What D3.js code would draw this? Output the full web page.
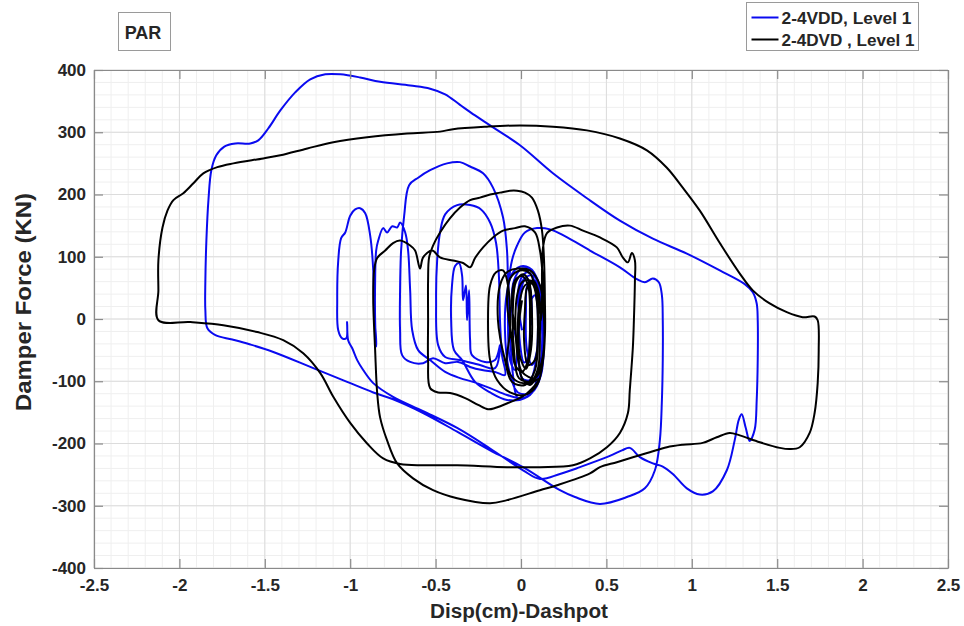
<!DOCTYPE html>
<html>
<head>
<meta charset="utf-8">
<script src="https://cdn.jsdelivr.net/npm/d3@7"></script>
<style>
  html, body { margin: 0; padding: 0; background: #fff; }
  svg text { font-family: "Liberation Sans", Arial, Helvetica, sans-serif; font-weight: bold; fill: #262626; }
</style>
</head>
<body>
<svg id="chart" width="964" height="626"></svg>
<script>
// Axis settings
const xDomain = [-2.5, 2.5];
const yDomain = [-400, 400];
const xTicks = [-2.5, -2, -1.5, -1, -0.5, 0, 0.5, 1, 1.5, 2, 2.5];
const yTicks = [-400, -300, -200, -100, 0, 100, 200, 300, 400];
const xTickLabels = ["-2.5", "-2", "-1.5", "-1", "-0.5", "0", "0.5", "1", "1.5", "2", "2.5"];
const yTickLabels = ["-400", "-300", "-200", "-100", "0", "100", "200", "300", "400"];

const seriesNames = ["2-4VDD, Level 1", "2-4DVD , Level 1"];
const seriesColors = ["#0a0af0", "#000000"];

// Damper hysteresis, 2-4VDD, Level 1: [displacement (cm), force (kN)]
const vddPoints = [
  [0.006,-18],[-0.018,30],[0,65],[0.041,75],[0.082,59],[0.099,-2],[0.088,-66],[0.053,-98],[0.006,-95],[-0.018,-50],
  [-0.053,14],[-0.041,62],[0.006,81],[0.064,78],[0.117,46],[0.135,-18],[0.117,-90],[0.064,-118],[-0.018,-118],[-0.070,-82],
  [-0.094,-18],[-0.082,43],[-0.047,75],[0.012,85],[0.076,75],[0.111,30],[0.123,-42],[0.094,-106],[0.023,-127],[-0.082,-130],[-0.181,-118],[-0.269,-101],
  [-0.345,-66],[-0.392,-50],[-0.409,-2],[-0.404,54],[-0.386,85],[-0.363,90],[-0.345,70],[-0.339,30],[-0.322,54],[-0.316,-2],[-0.304,46],[-0.298,-34],
  [-0.287,-58],[-0.211,-69],[-0.152,-66],[-0.123,-42],
  [-0.152,-79],[-0.240,-74],[-0.357,-66],[-0.444,-61],[-0.485,-42],[-0.497,30],[-0.491,94],[-0.474,139],[-0.444,168],[-0.374,183],[-0.298,183],
  [-0.234,176],[-0.181,155],[-0.146,122],[-0.129,67],[-0.123,-2],[-0.111,-58],[-0.094,-90],
  [-0.152,-85],[-0.228,-82],[-0.298,-77],[-0.368,-69],[-0.444,-71],[-0.515,-63],[-0.573,-71],[-0.649,-69],[-0.696,-58],
  [-0.708,-18],[-0.708,46],[-0.702,110],[-0.684,166],[-0.655,215],[-0.602,227],[-0.532,239],[-0.433,250],[-0.357,252],[-0.298,245],
  [-0.222,234],[-0.164,211],[-0.105,163],[-0.082,110],[-0.076,57],[-0.064,-18],[-0.047,-90],[-0.018,-127],[0.053,-122],[0.111,-82],
  [0.135,-18],[0.117,46],[0.070,70],[0.023,65],[-0.006,30],[-0.018,-34],[-0.035,-82],[-0.064,-66],[-0.076,-2],[-0.070,62],
  [-0.053,94],[-0.023,118],[0.023,139],[0.094,146],[0.170,144],[0.257,133],[0.404,110],[0.579,83],[0.678,64],[0.725,59],[0.772,65],
  [0.807,59],[0.825,38],[0.830,-2],[0.830,-66],[0.825,-130],[0.813,-195],[0.784,-243],[0.725,-272],[0.620,-286],[0.462,-297],
  [0.316,-286],[0.228,-275],[0.012,-238],[-0.181,-211],[-0.374,-181],[-0.573,-151],[-0.749,-129],[-0.865,-118],[-1.018,-101],
  [-1.216,-79],[-1.450,-53],[-1.585,-41],[-1.690,-33],[-1.789,-26],[-1.836,-15],[-1.848,14],[-1.848,62],[-1.842,126],[-1.830,191],
  [-1.813,239],[-1.784,263],[-1.737,277],[-1.673,282],[-1.585,282],[-1.538,287],[-1.480,306],[-1.409,335],[-1.322,364],[-1.234,385],
  [-1.146,393],[-1.058,393],[-0.942,388],[-0.825,381],[-0.649,375],[-0.532,370],[-0.444,361],[-0.357,344],[-0.269,327],[-0.181,311],
  [-0.006,279],[0.187,234],[0.386,194],[0.579,158],[0.772,129],[0.971,105],[1.164,78],[1.310,56],[1.357,43],[1.380,25],
  [1.386,-2],[1.386,-66],[1.380,-130],[1.368,-178],[1.339,-196],[1.316,-175],[1.292,-153],[1.275,-162],[1.251,-195],[1.205,-243],
  [1.123,-277],[1.047,-282],[0.971,-272],[0.889,-249],[0.830,-237],[0.772,-232],[0.696,-222],[0.637,-207],[0.591,-211],[0.520,-220],
  [0.345,-238],[0.228,-249],[0.111,-257],[0.012,-243],[-0.181,-208],[-0.374,-175],[-0.573,-148],[-0.749,-125],[-0.865,-103],
  [-0.924,-82],[-0.959,-66],[-0.988,-47],
  [-1.012,-34],[-1.018,-5],[-1.023,-31],[-1.047,-31],[-1.070,-18],[-1.076,30],[-1.070,94],[-1.053,130],[-1.029,139],[-1.000,166],
  [-0.971,176],[-0.942,178],[-0.912,170],[-0.883,134],[-0.865,78],[-0.860,14],[-0.848,-34],
  [-0.848,-44],[-0.854,-2],[-0.854,62],[-0.848,110],[-0.836,126],[-0.807,146],[-0.784,139],[-0.754,149],[-0.725,147],[-0.708,155],
  [-0.678,139],[-0.661,110],[-0.649,46],[-0.637,-18],[-0.602,-50],[-0.532,-66],[-0.444,-85],[-0.357,-95],[-0.281,-101],[-0.181,-111],
  [-0.082,-122],[0.012,-127],[0.070,-114],[0.111,-74],
  [0.129,-18],[0.117,38],[0.082,62],[0.041,57],[0.029,14],[0.035,-50],[0.064,-74],[0.094,-50],[0.099,14],[0.082,38],[0.058,30],[0.053,-18],
  [0.041,-60],[0.018,-70],[-0.006,-40],[-0.012,20],[0.006,60],[0.035,66],[0.058,40],[0.064,-10]
];

// Damper hysteresis, 2-4DVD , Level 1: [displacement (cm), force (kN)]
const dvdPoints = [
  [-0.035,-18],[-0.053,30],[-0.035,62],[0.006,69],[0.041,54],[0.053,-2],[0.041,-66],[0.006,-85],[-0.035,-74],[-0.053,-34],
  [-0.082,30],[-0.064,65],[-0.006,78],[0.053,73],[0.088,38],[0.099,-26],[0.082,-82],[0.023,-106],[-0.053,-101],[-0.094,-66],
  [-0.135,-2],[-0.123,54],[-0.082,75],[-0.018,81],[0.053,78],[0.111,54],[0.135,-2],[0.129,-66],[0.094,-106],[0.023,-122],
  [-0.064,-118],[-0.140,-98],[-0.181,-66],
  [-0.193,-2],[-0.181,54],[-0.146,75],[-0.105,78],[-0.076,54],[-0.064,-18],[-0.082,-74],[-0.035,-98],[0.053,-103],[0.111,-95],
  [0.023,-122],[-0.076,-135],[-0.152,-143],[-0.193,-145],[-0.251,-138],[-0.327,-127],[-0.415,-119],[-0.485,-118],[-0.532,-111],
  [-0.544,-66],[-0.544,-2],[-0.544,62],[-0.538,99],[-0.515,118],[-0.474,139],[-0.415,162],[-0.357,179],[-0.298,191],[-0.240,195],
  [-0.181,200],[-0.123,203],[-0.064,206],[-0.023,206],[0.023,203],[0.064,195],[0.099,174],[0.123,142],[0.135,94],[0.140,30],
  [0.140,-26],[0.123,-74],[0.082,-95],
  [0.006,-85],[-0.029,-34],[-0.023,38],[0.006,59],[0.053,62],[0.094,43],[0.117,-2],[0.123,30],
  [0.123,78],[0.129,115],[0.152,138],[0.211,147],[0.287,150],[0.363,142],[0.462,131],[0.561,115],[0.596,99],[0.626,91],
  [0.649,106],[0.667,94],[0.667,62],[0.661,-2],[0.655,-45],[0.637,-114],[0.626,-151],[0.579,-183],[0.503,-206],[0.404,-224],
  [0.304,-235],[0.111,-238],[-0.082,-238],[-0.374,-235],[-0.573,-235],[-0.708,-233],[-0.807,-224],[-0.901,-200],[-1.000,-167],
  [-1.099,-125],[-1.175,-87],[-1.275,-55],[-1.392,-34],[-1.544,-21],[-1.743,-10],[-1.936,-5],[-2.123,-2],
  [-2.123,46],[-2.123,94],[-2.099,147],[-2.070,174],[-2.035,191],[-1.977,202],[-1.918,218],[-1.860,234],[-1.778,244],[-1.684,250],
  [-1.509,258],[-1.409,263],[-1.251,274],[-1.099,284],[-0.901,292],[-0.667,298],[-0.474,301],[-0.398,305],[-0.199,309],[-0.006,311],
  [0.187,309],[0.386,303],[0.579,290],[0.737,271],[0.854,243],[0.947,211],[1.047,174],[1.164,122],[1.281,73],[1.357,46],
  [1.456,25],[1.556,11],[1.649,3],[1.719,4],[1.737,-2],[1.743,-50],[1.737,-103],[1.719,-151],[1.690,-183],[1.632,-206],
  [1.573,-209],[1.515,-207],[1.398,-198],[1.281,-187],[1.222,-183],[1.146,-190],[1.064,-199],[0.947,-202],[0.854,-206],[0.754,-214],
  [0.655,-222],[0.561,-230],[0.462,-238],[0.404,-248],[0.211,-267],[0.111,-275],[-0.082,-291],[-0.181,-296],[-0.374,-288],
  [-0.515,-275],[-0.632,-256],[-0.725,-232],[-0.784,-195],[-0.825,-158],[-0.842,-119],[-0.854,-50],[-0.865,30],[-0.860,78],
  [-0.842,98],[-0.795,110],[-0.749,122],[-0.708,126],[-0.649,118],[-0.620,110],[-0.591,81],[-0.573,99],[-0.520,110],[-0.474,99],
  [-0.398,94],[-0.339,90],[-0.298,83],[-0.269,98],[-0.222,115],[-0.164,131],[-0.105,142],[-0.035,146],[0.023,149],[0.082,139],
  [0.111,110],[0.129,62],[0.140,-2],[0.129,-58],[0.094,-90],
  [0.053,-106],[0.006,-95],[-0.018,-34],[-0.006,30],[0.023,54],[0.064,57],[0.094,30],[0.099,-18],[0.082,-66],[0.041,-74],
  [0.018,-34],[0.023,14],
  [0.035,50],[0.070,62],[0.105,40],[0.111,-20],[0.099,-80],[0.058,-100],[-0.012,-95],[-0.041,-50],[-0.047,20],[-0.029,60],
  [0.012,72],[0.047,60],[0.064,10],[0.058,-50],[0.029,-80],[-0.006,-60],[-0.012,-10],[0.006,30]
];

const svg = d3.select("#chart");
const margin = { left: 94, top: 70, right: 964 - 948, bottom: 626 - 568 };
const W = 964 - margin.left - margin.right;
const H = 626 - margin.top - margin.bottom;

const x = d3.scaleLinear().domain(xDomain).range([0, W]);
const y = d3.scaleLinear().domain(yDomain).range([H, 0]);

const g = svg.append("g").attr("transform", `translate(${margin.left},${margin.top})`);

// minor grid
const xMinor = d3.range(-2.5, 2.5001, 0.1);
const yMinor = d3.range(-400, 400.01, 20);
g.append("g").selectAll("line").data(xMinor).join("line")
  .attr("x1", d => x(d)).attr("x2", d => x(d)).attr("y1", 0).attr("y2", H)
  .attr("stroke", "#efefef").attr("stroke-width", 1);
g.append("g").selectAll("line").data(yMinor).join("line")
  .attr("y1", d => y(d)).attr("y2", d => y(d)).attr("x1", 0).attr("x2", W)
  .attr("stroke", "#efefef").attr("stroke-width", 1);
// major grid
g.append("g").selectAll("line").data(xTicks).join("line")
  .attr("x1", d => x(d)).attr("x2", d => x(d)).attr("y1", 0).attr("y2", H)
  .attr("stroke", "#dcdcdc").attr("stroke-width", 1);
g.append("g").selectAll("line").data(yTicks).join("line")
  .attr("y1", d => y(d)).attr("y2", d => y(d)).attr("x1", 0).attr("x2", W)
  .attr("stroke", "#dcdcdc").attr("stroke-width", 1);

// data curves
const line = d3.line().x(d => x(d[0])).y(d => y(d[1])).curve(d3.curveCatmullRom.alpha(0.5));
[vddPoints, dvdPoints].forEach((pts, i) => {
  g.append("path").datum(pts)
    .attr("d", line)
    .attr("fill", "none")
    .attr("stroke", seriesColors[i])
    .attr("stroke-width", 2)
    .attr("stroke-linejoin", "round");
});

// axes (inward ticks on all four sides)
const tickLen = 9;
const fmtX = (d, i) => xTickLabels[i];
const fmtY = (d, i) => yTickLabels[i];
const axB = g.append("g").attr("transform", `translate(0,${H})`)
  .call(d3.axisBottom(x).tickValues(xTicks).tickFormat(fmtX).tickSizeInner(-tickLen).tickSizeOuter(0));
const axL = g.append("g")
  .call(d3.axisLeft(y).tickValues(yTicks).tickFormat(fmtY).tickSizeInner(-tickLen).tickSizeOuter(0).tickPadding(8));
const axT = g.append("g")
  .call(d3.axisTop(x).tickValues(xTicks).tickFormat("").tickSizeInner(-tickLen).tickSizeOuter(0));
const axR = g.append("g").attr("transform", `translate(${W},0)`)
  .call(d3.axisRight(y).tickValues(yTicks).tickFormat("").tickSizeInner(-tickLen).tickSizeOuter(0));
[axB, axL, axT, axR].forEach(a => {
  a.select(".domain").attr("stroke", "#8a8a8a").attr("stroke-width", 1.2);
  a.selectAll(".tick line").attr("stroke", "#8a8a8a").attr("stroke-width", 1.2);
  a.selectAll("text").attr("font-size", 17).attr("font-weight", "bold").attr("fill", "#262626")
    .attr("font-family", "'Liberation Sans', Arial, sans-serif");
});
axB.selectAll("text").attr("y", 23).attr("dy", 0);

// axis titles
svg.append("text").attr("x", 519).attr("y", 618)
  .attr("text-anchor", "middle").attr("font-size", 20)
  .attr("textLength", 178).attr("lengthAdjust", "spacingAndGlyphs")
  .text("Disp(cm)-Dashpot");
svg.append("text").attr("transform", `translate(31,302) rotate(-90)`)
  .attr("text-anchor", "middle").attr("font-size", 22)
  .attr("textLength", 218).attr("lengthAdjust", "spacingAndGlyphs")
  .text("Damper Force (KN)");

// "PAR" label box
svg.append("rect").attr("x", 118.5).attr("y", 12.5).attr("width", 52).attr("height", 38)
  .attr("fill", "#fff").attr("stroke", "#9a9a9a").attr("stroke-width", 1);
svg.append("text").attr("x", 143).attr("y", 39).attr("text-anchor", "middle")
  .attr("font-size", 18).text("PAR");

// legend
const lg = svg.append("g").attr("transform", "translate(746.5,2.5)");
lg.append("rect").attr("width", 172).attr("height", 48)
  .attr("fill", "#fff").attr("stroke", "#9a9a9a").attr("stroke-width", 1);
const legendTextLen = [130, 133];
seriesNames.forEach((name, i) => {
  const yy = 15 + i * 22;
  lg.append("line").attr("x1", 5).attr("x2", 32).attr("y1", yy).attr("y2", yy)
    .attr("stroke", seriesColors[i]).attr("stroke-width", 2);
  lg.append("text").attr("x", 35).attr("y", yy + 6).attr("font-size", 17)
    .attr("textLength", legendTextLen[i]).attr("lengthAdjust", "spacingAndGlyphs")
    .text(name);
});
</script>
</body>
</html>
